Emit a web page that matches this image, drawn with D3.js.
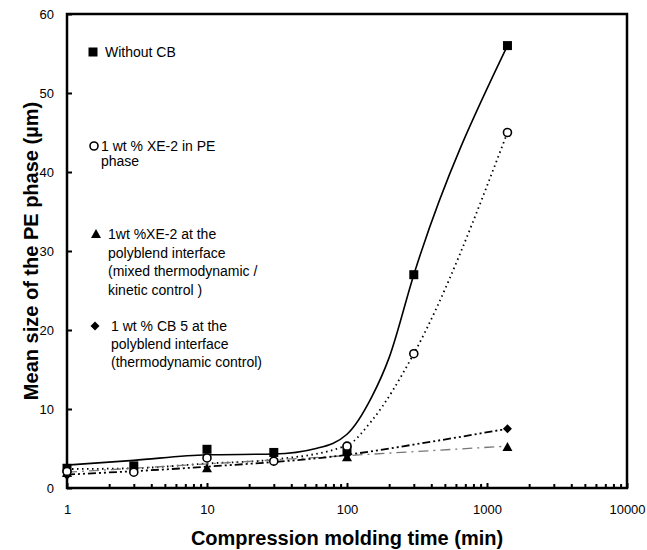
<!DOCTYPE html>
<html>
<head>
<meta charset="utf-8" />
<script src="https://d3js.org/d3.v7.min.js"></script>
<style>
  body { margin: 0; background: #fff; }
  svg { font-family: "Liberation Sans", Arial, Helvetica, sans-serif; }
</style>
</head>
<body>
<div id="visu"></div>
<script>
// dimensions
const largeur = 647;
const hauteur = 550;
const marge = {haut: 14, droite: 20, bas: 62, gauche: 67};

// data
const tempsSansCB = [1, 3, 10, 30, 100, 300, 1400];
const tailleSansCB = [2.5, 2.8, 4.9, 4.5, 4.8, 27, 56];
const tempsXEPE = [1, 3, 10, 30, 100, 300, 1400];
const tailleXEPE = [2.1, 2.0, 3.8, 3.4, 5.3, 17, 45];
const tempsXEInter = [1, 10, 100, 1400];
const tailleXEInter = [1.9, 2.5, 3.9, 5.2];
const tempsCB5 = [1, 100, 1400];
const tailleCB5 = [1.6, 4.2, 7.5];

// fitted curves as drawn on the picture
const courbeSansCB_t = [1, 3, 10, 30, 60, 100, 150, 200, 300, 1400];
const courbeSansCB_v = [2.9, 3.5, 4.2, 4.3, 5.0, 6.8, 11.5, 16.5, 27, 56];
const courbeXEPE_t = [1, 3, 10, 30, 100, 150, 300, 1400];
const courbeXEPE_v = [2.4, 2.5, 3.1, 3.6, 5.4, 8.5, 17, 45];
const courbeXEInter_t = [1, 1400];
const courbeXEInter_v = [2.0, 5.3];
const courbeCB5_t = [1, 10, 100, 300, 1400];
const courbeCB5_v = [1.7, 2.7, 4.2, 5.5, 7.5];

const ticksY = [0, 10, 20, 30, 40, 50, 60];
const ticksX = [1, 10, 100, 1000, 10000];

const legende = [
  {sym: "square", lignes: ["Without CB"], y: 52, x: 105, mx: 93, pas: 15},
  {sym: "circle", lignes: ["1 wt % XE-2 in PE", "phase"], y: 146, x: 101, mx: 94, pas: 15},
  {sym: "triangle", lignes: ["1wt %XE-2 at the", "polyblend interface", "(mixed thermodynamic /", "kinetic control )"], y: 234, x: 108, mx: 96, pas: 18.7},
  {sym: "diamond", lignes: ["1 wt % CB 5 at the", "polyblend interface", "(thermodynamic control)"], y: 326, x: 111, mx: 95, pas: 18}
];

const svg = d3.select('#visu').append('svg')
  .attr('width', largeur)
  .attr('height', hauteur);

const echelleX = d3.scaleLog()
  .domain([1, 10000])
  .range([marge.gauche, largeur - marge.droite]);

const echelleY = d3.scaleLinear()
  .domain([0, 60])
  .range([hauteur - marge.bas, marge.haut]);

// minor ticks on x (inside)
const mineurs = echelleX.ticks().filter(t => ticksX.indexOf(t) < 0);
svg.append('g')
  .attr('transform', `translate(0, ${hauteur - marge.bas})`)
  .call(d3.axisBottom(echelleX).tickValues(mineurs).tickSize(-4).tickFormat(''))
  .call(g => g.select('.domain').remove())
  .call(g => g.selectAll('line').attr('stroke-width', 2));

// major x ticks + labels
svg.append('g')
  .attr('transform', `translate(0, ${hauteur - marge.bas})`)
  .call(d3.axisBottom(echelleX).tickValues(ticksX).tickSizeInner(-5).tickSizeOuter(0).tickPadding(17).tickFormat(d3.format('d')))
  .call(g => g.select('.domain').remove())
  .call(g => g.selectAll('line').attr('stroke-width', 2))
  .call(g => g.selectAll('text').attr('font-size', 13).attr('font-family', 'inherit'));

// y axis
svg.append('g')
  .attr('transform', `translate(${marge.gauche}, 0)`)
  .call(d3.axisLeft(echelleY).tickValues(ticksY).tickSizeInner(-5).tickSizeOuter(0).tickPadding(13))
  .call(g => g.select('.domain').remove())
  .call(g => g.selectAll('line').attr('stroke-width', 2))
  .call(g => g.selectAll('text').attr('font-size', 13).attr('font-family', 'inherit'));

// frame
svg.append('rect')
  .attr('x', marge.gauche)
  .attr('y', marge.haut)
  .attr('width', largeur - marge.droite - marge.gauche)
  .attr('height', hauteur - marge.bas - marge.haut)
  .attr('fill', 'none')
  .attr('stroke', '#000')
  .attr('stroke-width', 2.5);

// axis titles
svg.append('text')
  .attr('x', echelleX(100))
  .attr('y', 545)
  .attr('text-anchor', 'middle')
  .attr('font-weight', 'bold')
  .attr('font-size', 20)
  .text('Compression molding time (min)');

svg.append('text')
  .attr('transform', `translate(38, ${(marge.haut + hauteur - marge.bas) / 2}) rotate(-90)`)
  .attr('text-anchor', 'middle')
  .attr('font-weight', 'bold')
  .attr('font-size', 20)
  .text('Mean size of the PE phase (µm)');

// lines
const zip = (t, v) => t.map((d, i) => ({t: d, v: v[i]}));
const ligneGen = d3.line()
  .x(d => echelleX(d.t))
  .y(d => echelleY(d.v))
  .curve(d3.curveMonotoneX);

const courbes = [
  {pts: zip(courbeSansCB_t, courbeSansCB_v), stroke: '#000', w: 1.6, dash: null},
  {pts: zip(courbeXEPE_t, courbeXEPE_v), stroke: '#000', w: 1.8, dash: '1.5,3.5'},
  {pts: zip(courbeXEInter_t, courbeXEInter_v), stroke: '#777', w: 1.3, dash: '10,5,2,5'},
  {pts: zip(courbeCB5_t, courbeCB5_v), stroke: '#000', w: 1.8, dash: '8,3,2,3,2,3'}
];

courbes.forEach(c => {
  svg.append('path')
    .datum(c.pts)
    .attr('d', ligneGen)
    .attr('fill', 'none')
    .attr('stroke', c.stroke)
    .attr('stroke-width', c.w)
    .attr('stroke-dasharray', c.dash);
});

// markers
function symbole(sel, type) {
  if (type === 'square') {
    sel.append('rect').attr('x', -4.5).attr('y', -4.5).attr('width', 9).attr('height', 9).attr('fill', '#000');
  } else if (type === 'circle') {
    sel.append('circle').attr('r', 4).attr('fill', '#fff').attr('stroke', '#000').attr('stroke-width', 1.6);
  } else if (type === 'triangle') {
    sel.append('path').attr('d', 'M0,-5L5,4L-5,4Z').attr('fill', '#000');
  } else {
    sel.append('path').attr('d', 'M0,-4.5L4.5,0L0,4.5L-4.5,0Z').attr('fill', '#000');
  }
}

const series = [
  {t: tempsSansCB, v: tailleSansCB, sym: 'square'},
  {t: tempsCB5, v: tailleCB5, sym: 'diamond'},
  {t: tempsXEInter, v: tailleXEInter, sym: 'triangle'},
  {t: tempsXEPE, v: tailleXEPE, sym: 'circle'}
];

series.forEach(s => {
  zip(s.t, s.v).forEach(p => {
    const g = svg.append('g')
      .attr('transform', `translate(${echelleX(p.t)}, ${echelleY(p.v)})`);
    symbole(g, s.sym);
  });
});

// legend
legende.forEach(l => {
  const g = svg.append('g').attr('transform', `translate(${l.mx}, ${l.y})`);
  symbole(g, l.sym);
  l.lignes.forEach((txt, i) => {
    svg.append('text')
      .attr('x', l.x)
      .attr('y', l.y + 5 + i * l.pas)
      .attr('font-size', 14)
      .text(txt);
  });
});
</script>
</body>
</html>
